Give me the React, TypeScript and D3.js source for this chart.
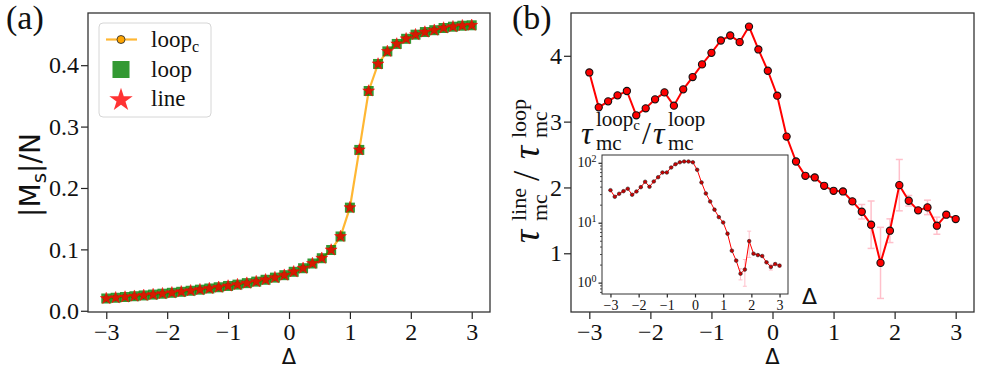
import React, { useRef, useEffect } from 'react';
import * as d3 from 'd3';

// Delta grid shared by every series (40 points from -3 to 3)
const deltas = [
  -3.0, -2.846, -2.692, -2.538, -2.385, -2.231, -2.077, -1.923, -1.769, -1.615,
  -1.462, -1.308, -1.154, -1.0, -0.846, -0.692, -0.538, -0.385, -0.231, -0.077,
  0.077, 0.231, 0.385, 0.538, 0.692, 0.846, 1.0, 1.154, 1.308, 1.462,
  1.615, 1.769, 1.923, 2.077, 2.231, 2.385, 2.538, 2.692, 2.846, 3.0,
];

// (a) |Ms|/N — the three estimators sit on top of each other
const msLoopC = [
  0.0200, 0.0212, 0.0224, 0.0237, 0.0250, 0.0264, 0.0278, 0.0293, 0.0309, 0.0326,
  0.0344, 0.0363, 0.0383, 0.0404, 0.0426, 0.0450, 0.0475, 0.0505, 0.0540, 0.0580,
  0.0635, 0.0693, 0.0770, 0.0856, 0.0990, 0.1210, 0.1680, 0.2620, 0.3580, 0.4020,
  0.4225, 0.4346, 0.4430, 0.4497, 0.4540, 0.4570, 0.4606, 0.4627, 0.4643, 0.4650,
];
const msLoop = msLoopC;
const msLine = msLoopC;

// (b) tau_line / tau_loop
const ratioLine = [
  3.747, 3.217, 3.308, 3.399, 3.465, 3.096, 3.202, 3.338, 3.444, 3.242,
  3.490, 3.677, 3.869, 4.045, 4.232, 4.308, 4.207, 4.444, 4.096, 3.773,
  3.394, 2.773, 2.394, 2.177, 2.152, 2.025, 1.949, 1.939, 1.788, 1.631,
  1.434, 0.854, 1.343, 2.035, 1.798, 1.652, 1.697, 1.419, 1.586, 1.520,
];
const ratioLineErr = [
  0.01, 0.01, 0.01, 0.01, 0.01, 0.01, 0.01, 0.01, 0.01, 0.01,
  0.01, 0.01, 0.01, 0.01, 0.01, 0.01, 0.01, 0.01, 0.01, 0.01,
  0.01, 0.01, 0.01, 0.01, 0.02, 0.02, 0.02, 0.02, 0.03, 0.11,
  0.36, 0.54, 0.18, 0.39, 0.08, 0.03, 0.11, 0.13, 0.03, 0.02,
];

// inset: tau_loopc / tau_loop (log scale)
const ratioLoopC = [
  34.9, 27.1, 30.4, 33.6, 36.9, 29.3, 33.2, 39.2, 48.2, 39.8,
  48.8, 57.5, 68.9, 68.9, 83.5, 94.8, 102, 105, 105, 102,
  76.4, 47.0, 30.8, 22.6, 16.5, 12.4, 10.1, 6.56, 3.41, 2.33,
  1.41, 1.65, 4.93, 3.04, 2.88, 2.78, 2.18, 1.82, 2.04, 1.92,
];
const ratioLoopCErr = [
  0.3, 0.3, 0.3, 0.3, 0.3, 0.3, 0.3, 0.3, 0.4, 0.4,
  0.4, 0.5, 0.5, 0.5, 0.6, 0.6, 0.6, 0.6, 0.6, 0.6,
  0.5, 0.4, 0.3, 0.2, 0.2, 0.1, 0.1, 0.1, 0.1, 0.1,
  0.3, 0.78, 2.3, 0.1, 0.1, 0.1, 0.1, 0.2, 0.1, 0.1,
];

const xTicks = [-3, -2, -1, 0, 1, 2, 3];
const msTicks = [0.0, 0.1, 0.2, 0.3, 0.4];
const ratioTicks = [1, 2, 3, 4];
const insetTicks = [1, 10, 100];
const insetMinor = [0.7, 0.8, 0.9, 2, 3, 4, 5, 6, 7, 8, 9, 20, 30, 40, 50, 60, 70, 80, 90];

const legendItems = ['loop', 'loop', 'line'];

const SERIF = '"Liberation Serif", "Times New Roman", serif';
const SANS = '"DejaVu Sans", sans-serif';

const App = () => {
  const svgRef = useRef<SVGSVGElement>(null);

  useEffect(() => {
    const svg = d3.select(svgRef.current);
    svg.selectAll('*').remove();

    const styleAxis = (sel: any, size: number) => {
      sel.attr('font-family', null);
      sel.select('.domain').remove();
      sel.selectAll('line').attr('stroke', '#222').attr('stroke-width', 1.2);
      sel.selectAll('text')
        .style('font-family', SERIF).style('font-size', `${size}px`).attr('fill', '#111');
    };

    const frame = (x0: number, y0: number, x1: number, y1: number, sw = 1.3) => {
      svg.append('rect')
        .attr('x', x0).attr('y', y0).attr('width', x1 - x0).attr('height', y1 - y0)
        .attr('fill', 'none').attr('stroke', '#333').attr('stroke-width', sw);
    };

    const piece = (g: any, x: number, y: number, size: number, t: string, italic = false) =>
      g.append('text').attr('x', x).attr('y', y)
        .style('font-family', SERIF).style('font-size', `${size}px`)
        .style('font-style', italic ? 'italic' : 'normal').attr('fill', '#111').text(t);

    const fmtInt = d3.format('d');

    // ---------- panel (a) ----------
    const a = { left: 88, right: 490, top: 13, bottom: 312 };
    const xA = d3.scaleLinear().domain([-3.3, 3.3]).range([a.left, a.right]);
    const yA = d3.scaleLinear().domain([-0.002, 0.485]).range([a.bottom, a.top]);

    svg.append('g').attr('transform', `translate(0,${a.bottom})`)
      .call(d3.axisBottom(xA).tickValues(xTicks).tickFormat(fmtInt).tickSize(7).tickPadding(4))
      .call(s => styleAxis(s, 24));
    svg.append('g').attr('transform', `translate(${a.left},0)`)
      .call(d3.axisLeft(yA).tickValues(msTicks).tickFormat(d3.format('.1f')).tickSize(7).tickPadding(2))
      .call(s => styleAxis(s, 24));

    const line = d3.line<number>().x((_, i) => xA(deltas[i])).y(d => yA(d));
    svg.append('path').datum(msLoopC).attr('d', line)
      .attr('fill', 'none').attr('stroke', 'orange').attr('stroke-opacity', 0.8).attr('stroke-width', 2.2);
    svg.append('g').selectAll('circle').data(msLoopC).enter().append('circle')
      .attr('cx', (_, i) => xA(deltas[i])).attr('cy', d => yA(d)).attr('r', 3)
      .attr('fill', 'orange').attr('stroke', '#333').attr('stroke-width', 0.8);
    const square = d3.symbol().type(d3.symbolSquare).size(100)();
    svg.append('g').selectAll('path').data(msLoop).enter().append('path')
      .attr('d', square).attr('transform', (d, i) => `translate(${xA(deltas[i])},${yA(d)})`)
      .attr('fill', 'green').attr('fill-opacity', 0.8);
    const star = d3.symbol().type(d3.symbolStar).size(44)();
    svg.append('g').selectAll('path').data(msLine).enter().append('path')
      .attr('d', star).attr('transform', (d, i) => `translate(${xA(deltas[i])},${yA(d)})`)
      .attr('fill', 'red').attr('fill-opacity', 0.8)
      .attr('stroke', 'red').attr('stroke-opacity', 0.5).attr('stroke-width', 1);

    frame(a.left, a.top, a.right, a.bottom);

    // legend
    const lg = svg.append('g');
    lg.append('rect').attr('x', 99).attr('y', 23).attr('width', 112).attr('height', 94).attr('rx', 4)
      .attr('fill', 'white').attr('fill-opacity', 0.8).attr('stroke', '#d6d6d6').attr('stroke-width', 1);
    const rows = [39.5, 69.5, 99];
    lg.append('line').attr('x1', 106).attr('x2', 137).attr('y1', rows[0]).attr('y2', rows[0])
      .attr('stroke', 'orange').attr('stroke-opacity', 0.8).attr('stroke-width', 2.2);
    lg.append('circle').attr('cx', 121).attr('cy', rows[0]).attr('r', 4)
      .attr('fill', 'orange').attr('stroke', '#333').attr('stroke-width', 0.9);
    lg.append('path').attr('d', d3.symbol().type(d3.symbolSquare).size(290)())
      .attr('transform', `translate(121,${rows[1]})`).attr('fill', 'green').attr('fill-opacity', 0.8);
    lg.append('path').attr('d', d3.symbol().type(d3.symbolStar).size(170)())
      .attr('transform', `translate(121,${rows[2] + 1})`).attr('fill', 'red').attr('fill-opacity', 0.8);
    legendItems.forEach((t, i) => {
      const txt = piece(lg, 151, rows[i] + 7, 23, t);
      if (i === 0) txt.append('tspan').attr('dy', 5).style('font-size', '16px').text('c');
    });

    // axis labels (a)
    svg.append('text').attr('x', xA(0)).attr('y', 364).attr('text-anchor', 'middle')
      .style('font-family', SANS).style('font-size', '21px').attr('fill', '#111').text('Δ');
    const ylA = svg.append('text').attr('transform', 'translate(40,175) rotate(-90)')
      .attr('text-anchor', 'middle').style('font-family', SANS).style('font-size', '28px').attr('fill', '#111');
    ylA.append('tspan').text('|M');
    ylA.append('tspan').attr('dy', 6).style('font-size', '20px').text('s');
    ylA.append('tspan').attr('dy', -6).text('|/N');

    piece(svg, 6, 29, 34, '(a)');

    // ---------- panel (b) ----------
    const b = { left: 571, right: 974, top: 13, bottom: 312 };
    const xB = d3.scaleLinear().domain([-3.3, 3.3]).range([b.left, b.right]);
    const yB = d3.scaleLinear().domain([0.108, 4.65]).range([b.bottom, b.top]);

    svg.append('g').attr('transform', `translate(0,${b.bottom})`)
      .call(d3.axisBottom(xB).tickValues(xTicks).tickFormat(fmtInt).tickSize(7).tickPadding(4))
      .call(s => styleAxis(s, 24));
    svg.append('g').attr('transform', `translate(${b.left},0)`)
      .call(d3.axisLeft(yB).tickValues(ratioTicks).tickFormat(fmtInt).tickSize(7).tickPadding(2))
      .call(s => styleAxis(s, 24));

    const errBars = (g: any, xs: any, ys: any, vals: number[], errs: number[], cap: number, sw: number) => {
      vals.forEach((v, i) => {
        const x = xs(deltas[i]);
        const y0 = ys(v - errs[i]);
        const y1 = ys(v + errs[i]);
        g.append('line').attr('x1', x).attr('x2', x).attr('y1', y0).attr('y2', y1);
        g.append('line').attr('x1', x - cap).attr('x2', x + cap).attr('y1', y0).attr('y2', y0);
        g.append('line').attr('x1', x - cap).attr('x2', x + cap).attr('y1', y1).attr('y2', y1);
      });
      g.attr('stroke', 'pink').attr('stroke-width', sw);
    };
    errBars(svg.append('g'), xB, yB, ratioLine, ratioLineErr, 3.5, 1.5);

    const lineB = d3.line<number>().x((_, i) => xB(deltas[i])).y(d => yB(d));
    svg.append('path').datum(ratioLine).attr('d', lineB)
      .attr('fill', 'none').attr('stroke', 'red').attr('stroke-width', 2);
    svg.append('g').selectAll('circle').data(ratioLine).enter().append('circle')
      .attr('cx', (_, i) => xB(deltas[i])).attr('cy', d => yB(d)).attr('r', 3.6)
      .attr('fill', 'red').attr('stroke', '#111').attr('stroke-width', 1.1);

    frame(b.left, b.top, b.right, b.bottom);

    svg.append('text').attr('x', xB(0)).attr('y', 364).attr('text-anchor', 'middle')
      .style('font-family', SANS).style('font-size', '21px').attr('fill', '#111').text('Δ');

    // rotated y label: tau_mc^line / tau_mc^loop
    const ylB = svg.append('g').attr('transform', 'translate(539,243) rotate(-90)');
    piece(ylB, 0, 0, 37, 'τ', true);
    piece(ylB, 22, -13, 22, 'line');
    piece(ylB, 22, 8, 22, 'mc');
    piece(ylB, 62, 0, 37, '/');
    piece(ylB, 84, 0, 37, 'τ', true);
    piece(ylB, 105, -13, 22, 'loop');
    piece(ylB, 105, 8, 22, 'mc');

    piece(svg, 512, 29, 34, '(b)');

    // ---------- inset ----------
    const ins = { left: 602, right: 788, top: 155, bottom: 294 };
    const xI = d3.scaleLinear().domain([-3.3, 3.3]).range([ins.left, ins.right]);
    const yI = d3.scaleLog().domain([Math.pow(10, -0.19), Math.pow(10, 2.13)]).range([ins.bottom, ins.top]);

    svg.append('rect').attr('x', ins.left).attr('y', ins.top)
      .attr('width', ins.right - ins.left).attr('height', ins.bottom - ins.top).attr('fill', 'white');

    svg.append('g').attr('transform', `translate(0,${ins.bottom})`)
      .call(d3.axisBottom(xI).tickValues(xTicks).tickFormat(fmtInt).tickSize(3.5).tickPadding(2.5))
      .call(s => styleAxis(s, 14));
    svg.append('g').attr('transform', `translate(${ins.left},0)`)
      .call(d3.axisLeft(yI).tickValues(insetMinor).tickFormat(() => '').tickSize(2))
      .call(s => styleAxis(s, 14))
      .selectAll('line').attr('stroke-width', 0.8);
    svg.append('g').attr('transform', `translate(${ins.left},0)`)
      .call(d3.axisLeft(yI).tickValues(insetTicks).tickFormat(() => '').tickSize(3.5).tickPadding(2))
      .call(s => styleAxis(s, 14))
      .selectAll('text').each(function (d: any) {
        const t = d3.select(this);
        t.attr('dy', '0.25em').text('10');
        t.append('tspan').attr('dy', '-0.45em').style('font-size', '10px')
          .text(String(Math.round(Math.log10(d))));
      });

    errBars(svg.append('g'), xI, yI, ratioLoopC, ratioLoopCErr, 2, 1);
    const lineI = d3.line<number>().x((_, i) => xI(deltas[i])).y(d => yI(d));
    svg.append('path').datum(ratioLoopC).attr('d', lineI)
      .attr('fill', 'none').attr('stroke', 'red').attr('stroke-width', 1);
    svg.append('g').selectAll('circle').data(ratioLoopC).enter().append('circle')
      .attr('cx', (_, i) => xI(deltas[i])).attr('cy', d => yI(d)).attr('r', 1.8)
      .attr('fill', '#c00').attr('stroke', '#222').attr('stroke-width', 0.6);

    frame(ins.left, ins.top, ins.right, ins.bottom, 1);

    svg.append('text').attr('x', 802).attr('y', 304)
      .style('font-family', SANS).style('font-size', '22px').attr('fill', '#111').text('Δ');

    // inset title: tau_mc^loopc / tau_mc^loop
    piece(svg, 581, 144, 32, 'τ', true);
    const sup = piece(svg, 596, 126, 21, 'loop');
    sup.append('tspan').attr('dy', 4).style('font-size', '15px').text('c');
    piece(svg, 596, 150, 21, 'mc');
    piece(svg, 642, 144, 32, '/');
    piece(svg, 653, 144, 32, 'τ', true);
    piece(svg, 668, 126, 21, 'loop');
    piece(svg, 668, 150, 21, 'mc');
  }, []);

  return (
    <svg ref={svgRef} width={986} height={368}
      style={{ position: 'absolute', left: 0, top: 0, background: 'white' }} />
  );
};

export default App;
